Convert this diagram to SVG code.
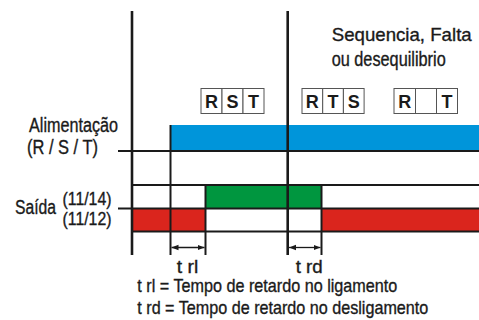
<svg xmlns="http://www.w3.org/2000/svg" width="479" height="320" viewBox="0 0 479 320">
<defs>
<style>
.t{font-family:"Liberation Sans",Arial,sans-serif;fill:#1a1a1a;stroke:#1a1a1a;stroke-width:0.35}
.b{font-family:"Liberation Sans",Arial,sans-serif;font-weight:bold;font-size:18px;fill:#1a1a1a;text-anchor:middle}
.ln{stroke:#1a1a1a;stroke-width:2;fill:none}
.thk{stroke:#1a1a1a;stroke-width:2.6;fill:none}
.bx{fill:#fff;stroke:#555;stroke-width:1}
</style>
<marker id="ah" viewBox="0 0 10 10" refX="10" refY="5" markerWidth="7" markerHeight="7" orient="auto-start-reverse" markerUnits="userSpaceOnUse">
<path d="M0,1 L10,5 L0,9 Z" fill="#1a1a1a"/>
</marker>
</defs>
<rect width="479" height="320" fill="#fff"/>

<g id="bars">
<rect x="170" y="125" width="309" height="26" fill="#0095DA"/>
<rect x="205" y="185" width="116" height="23.5" fill="#00963F"/>
<rect x="132" y="208.5" width="73" height="23" fill="#DA251D"/>
<rect x="321" y="208.5" width="158" height="23" fill="#DA251D"/>
</g>

<g id="connectors">
<line class="ln" x1="118" y1="151" x2="479" y2="151"/>
<line class="ln" x1="132" y1="185" x2="479" y2="185"/>
<line class="ln" x1="118" y1="208.5" x2="479" y2="208.5"/>
<line class="ln" x1="132" y1="231.5" x2="479" y2="231.5"/>
<line class="thk" x1="132" y1="11" x2="132" y2="255"/>
<line class="thk" x1="287.7" y1="11" x2="287.7" y2="255"/>
<line class="ln" x1="170.5" y1="125" x2="170.5" y2="255"/>
<line class="ln" x1="205.5" y1="185" x2="205.5" y2="255"/>
<line class="ln" x1="321.5" y1="185" x2="321.5" y2="255"/>
<line stroke="#1a1a1a" stroke-width="1.3" x1="171.5" y1="247.5" x2="204.5" y2="247.5" marker-start="url(#ah)" marker-end="url(#ah)"/>
<line stroke="#1a1a1a" stroke-width="1.3" x1="289" y1="247.5" x2="320.5" y2="247.5" marker-start="url(#ah)" marker-end="url(#ah)"/>
</g>

<g id="box-rst">
<rect class="bx" x="201" y="88.5" width="21" height="25"/>
<rect class="bx" x="222" y="88.5" width="21" height="25"/>
<rect class="bx" x="243" y="88.5" width="21" height="25"/>
<text class="b" x="211.5" y="108">R</text>
<text class="b" x="232.5" y="108">S</text>
<text class="b" x="253.5" y="108">T</text>
</g>
<g id="box-rts">
<rect class="bx" x="302" y="88.5" width="20.7" height="25"/>
<rect class="bx" x="322.7" y="88.5" width="20.7" height="25"/>
<rect class="bx" x="343.4" y="88.5" width="20.7" height="25"/>
<text class="b" x="312.3" y="108">R</text>
<text class="b" x="333" y="108">T</text>
<text class="b" x="353.7" y="108">S</text>
</g>
<g id="box-rt">
<rect class="bx" x="394" y="88.5" width="21.5" height="25"/>
<rect class="bx" x="415.5" y="88.5" width="21" height="25"/>
<rect class="bx" x="436.5" y="88.5" width="21" height="25"/>
<text class="b" x="404.7" y="108">R</text>
<text class="b" x="447" y="108">T</text>
</g>

<g id="labels">
<text class="t" x="331.7" y="40.7" font-size="19" textLength="140" lengthAdjust="spacingAndGlyphs">Sequencia, Falta</text>
<text class="t" x="331.7" y="66" font-size="19.5" textLength="114" lengthAdjust="spacingAndGlyphs">ou desequilibrio</text>
<text class="t" x="29" y="131.5" font-size="19.5" textLength="89" lengthAdjust="spacingAndGlyphs">Alimentação</text>
<text class="t" x="27" y="153.5" font-size="19.5" textLength="71" lengthAdjust="spacingAndGlyphs">(R / S / T)</text>
<text class="t" x="15" y="214" font-size="19.5" textLength="41" lengthAdjust="spacingAndGlyphs">Saída</text>
<text class="t" x="62.5" y="205" font-size="18.5" textLength="49" lengthAdjust="spacingAndGlyphs">(11/14)</text>
<text class="t" x="62.5" y="225" font-size="18.5" textLength="49" lengthAdjust="spacingAndGlyphs">(11/12)</text>
<text class="t" x="176.7" y="273" font-size="18.5" textLength="21.5" lengthAdjust="spacingAndGlyphs">t rl</text>
<text class="t" x="295.7" y="273" font-size="18.5" textLength="27" lengthAdjust="spacingAndGlyphs">t rd</text>
<text class="t" x="137.3" y="292" font-size="18.5" textLength="260" lengthAdjust="spacingAndGlyphs">t rl = Tempo de retardo no ligamento</text>
<text class="t" x="137.3" y="313.5" font-size="18.5" textLength="291" lengthAdjust="spacingAndGlyphs">t rd = Tempo de retardo no desligamento</text>
</g>
</svg>
